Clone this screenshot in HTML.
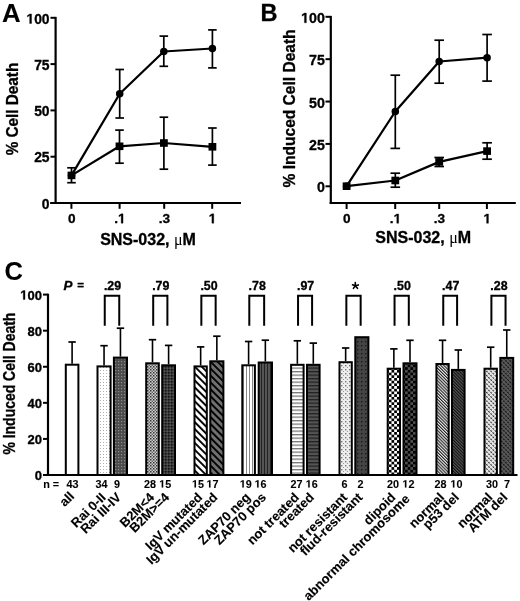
<!DOCTYPE html>
<html><head><meta charset="utf-8"><style>
html,body{margin:0;padding:0;background:#fff;width:520px;height:601px;overflow:hidden}
svg{display:block;font-family:"Liberation Sans", sans-serif;filter:grayscale(1)}
text{stroke:#000;stroke-width:0.32px}
</style></head><body>
<svg width="520" height="601" viewBox="0 0 520 601">

<defs>
<pattern id="pdotL" width="3" height="3" patternUnits="userSpaceOnUse"><rect width="3" height="3" fill="#fff"/><rect x="1" y="1" width="1" height="1" fill="#b0b0b0"/></pattern>
<pattern id="pdotD" width="3" height="3" patternUnits="userSpaceOnUse"><rect width="3" height="3" fill="#4c4c4c"/><rect x="1" y="1" width="1.2" height="1.2" fill="#8a8a8a"/></pattern>
<pattern id="pchkM" width="3" height="3" patternUnits="userSpaceOnUse"><rect width="3" height="3" fill="#d0d0d0"/><rect x="0" y="0" width="1.5" height="1.5" fill="#333"/><rect x="1.5" y="1.5" width="1.5" height="1.5" fill="#666"/></pattern>
<pattern id="pchkD" width="3" height="3" patternUnits="userSpaceOnUse"><rect width="3" height="3" fill="#3a3a3a"/><rect x="0" y="0" width="1.5" height="1.5" fill="#111"/><rect x="1.5" y="1.5" width="1.5" height="1.5" fill="#555"/></pattern>
<pattern id="pdiagW" width="4.9" height="4.9" patternUnits="userSpaceOnUse" patternTransform="rotate(-45)"><rect width="4.9" height="4.9" fill="#fff"/><rect x="0" y="0" width="1.9" height="4.9" fill="#000"/></pattern>
<pattern id="pdiagD" width="4.9" height="4.9" patternUnits="userSpaceOnUse" patternTransform="rotate(-45)"><rect width="4.9" height="4.9" fill="#707070"/><rect x="0" y="0" width="1.9" height="4.9" fill="#000"/></pattern>
<pattern id="pvertL" width="3" height="3" patternUnits="userSpaceOnUse"><rect width="3" height="3" fill="#fff"/><rect x="0" y="0" width="1" height="3" fill="#888"/></pattern>
<pattern id="pvertD" width="3" height="3" patternUnits="userSpaceOnUse"><rect width="3" height="3" fill="#555"/><rect x="0" y="0" width="1" height="3" fill="#222"/></pattern>
<pattern id="phorL" width="3.5" height="3.5" patternUnits="userSpaceOnUse"><rect width="3.5" height="3.5" fill="#fff"/><rect x="0" y="0" width="3.5" height="1.3" fill="#777"/></pattern>
<pattern id="phorD" width="3.5" height="3.5" patternUnits="userSpaceOnUse"><rect width="3.5" height="3.5" fill="#555"/><rect x="0" y="0" width="3.5" height="1.3" fill="#222"/></pattern>
<pattern id="phexL" width="4" height="4" patternUnits="userSpaceOnUse"><rect width="4" height="4" fill="#eee"/><rect x="1" y="1" width="1.4" height="1.4" fill="#777"/><rect x="3" y="3" width="1" height="1" fill="#999"/></pattern>
<pattern id="phexD" width="4" height="4" patternUnits="userSpaceOnUse"><rect width="4" height="4" fill="#444"/><rect x="1" y="1" width="1.4" height="1.4" fill="#1a1a1a"/></pattern>
<pattern id="pcheckL" width="5.4" height="5.4" patternUnits="userSpaceOnUse"><rect width="5.4" height="5.4" fill="#fff"/><rect x="0" y="0" width="2.7" height="2.7" fill="#000"/><rect x="2.7" y="2.7" width="2.7" height="2.7" fill="#000"/></pattern>
<pattern id="pcheckD" width="5.4" height="5.4" patternUnits="userSpaceOnUse"><rect width="5.4" height="5.4" fill="#505050"/><rect x="0" y="0" width="2.7" height="2.7" fill="#000"/><rect x="2.7" y="2.7" width="2.7" height="2.7" fill="#000"/></pattern>
<pattern id="pfineL" width="2.2" height="2.2" patternUnits="userSpaceOnUse" patternTransform="rotate(-45)"><rect width="2.2" height="2.2" fill="#eee"/><rect x="0" y="0" width="1.1" height="2.2" fill="#222"/></pattern>
<pattern id="pfineD" width="2.2" height="2.2" patternUnits="userSpaceOnUse" patternTransform="rotate(-45)"><rect width="2.2" height="2.2" fill="#555"/><rect x="0" y="0" width="1.1" height="2.2" fill="#111"/></pattern>
<pattern id="pdashL" width="3" height="3" patternUnits="userSpaceOnUse" patternTransform="rotate(-45)"><rect width="3" height="3" fill="#eee"/><rect x="0" y="0" width="1.2" height="2" fill="#333"/></pattern>
<pattern id="pdashD" width="3" height="3" patternUnits="userSpaceOnUse" patternTransform="rotate(-45)"><rect width="3" height="3" fill="#5a5a5a"/><rect x="0" y="0" width="1.2" height="2" fill="#111"/></pattern>
</defs>

<rect width="520" height="601" fill="#fff"/>
<text x="2.0" y="22.0" font-size="25.5" text-anchor="start" font-weight="bold" textLength="18.6" lengthAdjust="spacingAndGlyphs" style="stroke-width:0.1px">A</text>
<line x1="55.6" y1="16.899999999999984" x2="55.6" y2="204.0" stroke="#000" stroke-width="2.2" />
<line x1="50.2" y1="203.0" x2="241" y2="203.0" stroke="#000" stroke-width="2.2" />
<line x1="50.5" y1="203.0" x2="55.6" y2="203.0" stroke="#000" stroke-width="2" />
<text x="49.6" y="208.7" font-size="13.9" text-anchor="end" font-weight="bold" >0</text>
<line x1="50.5" y1="156.7" x2="55.6" y2="156.7" stroke="#000" stroke-width="2" />
<text x="49.6" y="162.39999999999998" font-size="13.9" text-anchor="end" font-weight="bold" >25</text>
<line x1="50.5" y1="110.39999999999999" x2="55.6" y2="110.39999999999999" stroke="#000" stroke-width="2" />
<text x="49.6" y="116.1" font-size="13.9" text-anchor="end" font-weight="bold" >50</text>
<line x1="50.5" y1="64.1" x2="55.6" y2="64.1" stroke="#000" stroke-width="2" />
<text x="49.6" y="69.8" font-size="13.9" text-anchor="end" font-weight="bold" >75</text>
<line x1="50.5" y1="17.799999999999983" x2="55.6" y2="17.799999999999983" stroke="#000" stroke-width="2" />
<path d="M478,0 L478,1170 L140,959 L140,1180 L493,1409 L759,1409 L759,0 Z" transform="translate(26.41,23.499999999999982) scale(0.00679,-0.00679)" fill="#000" stroke="#000" stroke-width="0.32" vector-effect="non-scaling-stroke"/>
<text x="34.14" y="23.499999999999982" font-size="13.9" font-weight="bold" >0</text>
<text x="41.87" y="23.499999999999982" font-size="13.9" font-weight="bold" >0</text>
<line x1="71.4" y1="203.0" x2="71.4" y2="208.8" stroke="#000" stroke-width="2" />
<text x="71.7" y="223.2" font-size="13.6" text-anchor="middle" font-weight="bold" >0</text>
<line x1="119.6" y1="203.0" x2="119.6" y2="208.8" stroke="#000" stroke-width="2" />
<text x="114.23" y="223.2" font-size="13.6" font-weight="bold" >.</text>
<path d="M478,0 L478,1170 L140,959 L140,1180 L493,1409 L759,1409 L759,0 Z" transform="translate(118.01,223.2) scale(0.00664,-0.00664)" fill="#000" stroke="#000" stroke-width="0.32" vector-effect="non-scaling-stroke"/>
<line x1="164.2" y1="203.0" x2="164.2" y2="208.8" stroke="#000" stroke-width="2" />
<text x="164.5" y="223.2" font-size="13.6" text-anchor="middle" font-weight="bold" >.3</text>
<line x1="212.2" y1="203.0" x2="212.2" y2="208.8" stroke="#000" stroke-width="2" />
<path d="M478,0 L478,1170 L140,959 L140,1180 L493,1409 L759,1409 L759,0 Z" transform="translate(208.72,223.2) scale(0.00664,-0.00664)" fill="#000" stroke="#000" stroke-width="0.32" vector-effect="non-scaling-stroke"/>
<text x="148.0" y="244.6" font-size="16" text-anchor="middle" font-weight="bold" >SNS-032, <tspan font-family="Liberation Serif" font-weight="normal" style="stroke:none">&#956;</tspan>M</text>
<text transform="translate(17.9,109.0) rotate(-90)" font-size="16" font-weight="bold" text-anchor="middle" textLength="92.6" lengthAdjust="spacingAndGlyphs">% Cell Death</text>
<line x1="119.7" y1="69.5" x2="119.7" y2="118.0" stroke="#000" stroke-width="1.7" />
<line x1="115.4" y1="69.5" x2="124.0" y2="69.5" stroke="#000" stroke-width="1.7" />
<line x1="115.4" y1="118.0" x2="124.0" y2="118.0" stroke="#000" stroke-width="1.7" />
<line x1="163.8" y1="36.1" x2="163.8" y2="66.3" stroke="#000" stroke-width="1.7" />
<line x1="159.5" y1="36.1" x2="168.10000000000002" y2="36.1" stroke="#000" stroke-width="1.7" />
<line x1="159.5" y1="66.3" x2="168.10000000000002" y2="66.3" stroke="#000" stroke-width="1.7" />
<line x1="212.4" y1="29.9" x2="212.4" y2="67.9" stroke="#000" stroke-width="1.7" />
<line x1="208.1" y1="29.9" x2="216.70000000000002" y2="29.9" stroke="#000" stroke-width="1.7" />
<line x1="208.1" y1="67.9" x2="216.70000000000002" y2="67.9" stroke="#000" stroke-width="1.7" />
<path d="M71.5,175.4 L119.7,93.7 L163.8,51.5 L212.4,48.5" fill="none" stroke="#000" stroke-width="2.25" stroke-linejoin="round"/>
<circle cx="71.5" cy="175.4" r="3.75" fill="#000"/>
<circle cx="119.7" cy="93.7" r="3.75" fill="#000"/>
<circle cx="163.8" cy="51.5" r="3.75" fill="#000"/>
<circle cx="212.4" cy="48.5" r="3.75" fill="#000"/>
<line x1="71.5" y1="167.8" x2="71.5" y2="182.7" stroke="#000" stroke-width="1.7" />
<line x1="67.2" y1="167.8" x2="75.8" y2="167.8" stroke="#000" stroke-width="1.7" />
<line x1="67.2" y1="182.7" x2="75.8" y2="182.7" stroke="#000" stroke-width="1.7" />
<line x1="119.5" y1="130.1" x2="119.5" y2="163.2" stroke="#000" stroke-width="1.7" />
<line x1="115.2" y1="130.1" x2="123.8" y2="130.1" stroke="#000" stroke-width="1.7" />
<line x1="115.2" y1="163.2" x2="123.8" y2="163.2" stroke="#000" stroke-width="1.7" />
<line x1="163.9" y1="117.2" x2="163.9" y2="169.2" stroke="#000" stroke-width="1.7" />
<line x1="159.6" y1="117.2" x2="168.20000000000002" y2="117.2" stroke="#000" stroke-width="1.7" />
<line x1="159.6" y1="169.2" x2="168.20000000000002" y2="169.2" stroke="#000" stroke-width="1.7" />
<line x1="212.4" y1="128.0" x2="212.4" y2="165.1" stroke="#000" stroke-width="1.7" />
<line x1="208.1" y1="128.0" x2="216.70000000000002" y2="128.0" stroke="#000" stroke-width="1.7" />
<line x1="208.1" y1="165.1" x2="216.70000000000002" y2="165.1" stroke="#000" stroke-width="1.7" />
<path d="M71.5,175.4 L119.5,146.3 L163.9,143.0 L212.4,146.8" fill="none" stroke="#000" stroke-width="2.25" stroke-linejoin="round"/>
<rect x="67.6" y="171.6" width="7.8" height="7.6" fill="#000"/>
<rect x="115.6" y="142.5" width="7.8" height="7.6" fill="#000"/>
<rect x="160.0" y="139.2" width="7.8" height="7.6" fill="#000"/>
<rect x="208.5" y="143.0" width="7.8" height="7.6" fill="#000"/>
<text x="260.6" y="20.8" font-size="23.5" text-anchor="start" font-weight="bold" >B</text>
<line x1="330.8" y1="15.900000000000011" x2="330.8" y2="204" stroke="#000" stroke-width="2.2" />
<line x1="329.7" y1="203.0" x2="515.8" y2="203.0" stroke="#000" stroke-width="2.2" />
<line x1="325.5" y1="186.3" x2="330.8" y2="186.3" stroke="#000" stroke-width="2" />
<text x="324.8" y="192.3" font-size="14.2" text-anchor="end" font-weight="bold" >0</text>
<line x1="325.5" y1="143.925" x2="330.8" y2="143.925" stroke="#000" stroke-width="2" />
<text x="324.8" y="149.925" font-size="14.2" text-anchor="end" font-weight="bold" >25</text>
<line x1="325.5" y1="101.55000000000001" x2="330.8" y2="101.55000000000001" stroke="#000" stroke-width="2" />
<text x="324.8" y="107.55000000000001" font-size="14.2" text-anchor="end" font-weight="bold" >50</text>
<line x1="325.5" y1="59.17500000000001" x2="330.8" y2="59.17500000000001" stroke="#000" stroke-width="2" />
<text x="324.8" y="65.17500000000001" font-size="14.2" text-anchor="end" font-weight="bold" >75</text>
<line x1="325.5" y1="16.80000000000001" x2="330.8" y2="16.80000000000001" stroke="#000" stroke-width="2" />
<path d="M478,0 L478,1170 L140,959 L140,1180 L493,1409 L759,1409 L759,0 Z" transform="translate(301.11,22.80000000000001) scale(0.00693,-0.00693)" fill="#000" stroke="#000" stroke-width="0.32" vector-effect="non-scaling-stroke"/>
<text x="309.01" y="22.80000000000001" font-size="14.2" font-weight="bold" >0</text>
<text x="316.90" y="22.80000000000001" font-size="14.2" font-weight="bold" >0</text>
<line x1="346.6" y1="203" x2="346.6" y2="209" stroke="#000" stroke-width="2" />
<text x="346.90000000000003" y="223.3" font-size="13.6" text-anchor="middle" font-weight="bold" >0</text>
<line x1="395.2" y1="203" x2="395.2" y2="209" stroke="#000" stroke-width="2" />
<text x="389.83" y="223.3" font-size="13.6" font-weight="bold" >.</text>
<path d="M478,0 L478,1170 L140,959 L140,1180 L493,1409 L759,1409 L759,0 Z" transform="translate(393.61,223.3) scale(0.00664,-0.00664)" fill="#000" stroke="#000" stroke-width="0.32" vector-effect="non-scaling-stroke"/>
<line x1="439.2" y1="203" x2="439.2" y2="209" stroke="#000" stroke-width="2" />
<text x="439.5" y="223.3" font-size="13.6" text-anchor="middle" font-weight="bold" >.3</text>
<line x1="486.9" y1="203" x2="486.9" y2="209" stroke="#000" stroke-width="2" />
<path d="M478,0 L478,1170 L140,959 L140,1180 L493,1409 L759,1409 L759,0 Z" transform="translate(483.42,223.3) scale(0.00664,-0.00664)" fill="#000" stroke="#000" stroke-width="0.32" vector-effect="non-scaling-stroke"/>
<text x="423.2" y="243.2" font-size="16" text-anchor="middle" font-weight="bold" >SNS-032, <tspan font-family="Liberation Serif" font-weight="normal" style="stroke:none">&#956;</tspan>M</text>
<text transform="translate(295.4,108.4) rotate(-90)" font-size="15.6" font-weight="bold" text-anchor="middle" textLength="158" lengthAdjust="spacingAndGlyphs">% Induced Cell Death</text>
<line x1="395.3" y1="75.2" x2="395.3" y2="148.4" stroke="#000" stroke-width="1.7" />
<line x1="390.5" y1="75.2" x2="400.1" y2="75.2" stroke="#000" stroke-width="1.7" />
<line x1="390.5" y1="148.4" x2="400.1" y2="148.4" stroke="#000" stroke-width="1.7" />
<line x1="439.2" y1="40.2" x2="439.2" y2="83.2" stroke="#000" stroke-width="1.7" />
<line x1="434.4" y1="40.2" x2="444.0" y2="40.2" stroke="#000" stroke-width="1.7" />
<line x1="434.4" y1="83.2" x2="444.0" y2="83.2" stroke="#000" stroke-width="1.7" />
<line x1="487.1" y1="34.5" x2="487.1" y2="81.1" stroke="#000" stroke-width="1.7" />
<line x1="482.3" y1="34.5" x2="491.90000000000003" y2="34.5" stroke="#000" stroke-width="1.7" />
<line x1="482.3" y1="81.1" x2="491.90000000000003" y2="81.1" stroke="#000" stroke-width="1.7" />
<path d="M346.6,186.2 L395.3,111.5 L439.2,61.5 L487.1,57.7" fill="none" stroke="#000" stroke-width="2.25" stroke-linejoin="round"/>
<circle cx="346.6" cy="186.2" r="3.75" fill="#000"/>
<circle cx="395.3" cy="111.5" r="3.75" fill="#000"/>
<circle cx="439.2" cy="61.5" r="3.75" fill="#000"/>
<circle cx="487.1" cy="57.7" r="3.75" fill="#000"/>
<line x1="395.3" y1="173.2" x2="395.3" y2="187.2" stroke="#000" stroke-width="1.7" />
<line x1="390.5" y1="173.2" x2="400.1" y2="173.2" stroke="#000" stroke-width="1.7" />
<line x1="390.5" y1="187.2" x2="400.1" y2="187.2" stroke="#000" stroke-width="1.7" />
<line x1="439.2" y1="157.5" x2="439.2" y2="166.5" stroke="#000" stroke-width="1.7" />
<line x1="434.4" y1="157.5" x2="444.0" y2="157.5" stroke="#000" stroke-width="1.7" />
<line x1="434.4" y1="166.5" x2="444.0" y2="166.5" stroke="#000" stroke-width="1.7" />
<line x1="487.1" y1="142.8" x2="487.1" y2="159.2" stroke="#000" stroke-width="1.7" />
<line x1="482.3" y1="142.8" x2="491.90000000000003" y2="142.8" stroke="#000" stroke-width="1.7" />
<line x1="482.3" y1="159.2" x2="491.90000000000003" y2="159.2" stroke="#000" stroke-width="1.7" />
<path d="M346.6,186.2 L395.3,180.5 L439.2,161.9 L487.1,151.1" fill="none" stroke="#000" stroke-width="2.25" stroke-linejoin="round"/>
<rect x="342.70000000000005" y="182.39999999999998" width="7.8" height="7.6" fill="#000"/>
<rect x="391.40000000000003" y="176.7" width="7.8" height="7.6" fill="#000"/>
<rect x="435.3" y="158.1" width="7.8" height="7.6" fill="#000"/>
<rect x="483.20000000000005" y="147.29999999999998" width="7.8" height="7.6" fill="#000"/>
<text x="4.6" y="280.3" font-size="25.5" text-anchor="start" font-weight="bold" style="stroke-width:0.1px">C</text>
<line x1="48.0" y1="293.70000000000005" x2="48.0" y2="475.0" stroke="#000" stroke-width="2.2" />
<line x1="43" y1="475.0" x2="517.5" y2="475.0" stroke="#000" stroke-width="2.2" />
<line x1="43" y1="475.0" x2="48.0" y2="475.0" stroke="#000" stroke-width="2" />
<text x="41.9" y="479.9" font-size="13" text-anchor="end" font-weight="bold" >0</text>
<line x1="43" y1="438.92" x2="48.0" y2="438.92" stroke="#000" stroke-width="2" />
<text x="41.9" y="443.82" font-size="13" text-anchor="end" font-weight="bold" >20</text>
<line x1="43" y1="402.84000000000003" x2="48.0" y2="402.84000000000003" stroke="#000" stroke-width="2" />
<text x="41.9" y="407.74" font-size="13" text-anchor="end" font-weight="bold" >40</text>
<line x1="43" y1="366.76" x2="48.0" y2="366.76" stroke="#000" stroke-width="2" />
<text x="41.9" y="371.65999999999997" font-size="13" text-anchor="end" font-weight="bold" >60</text>
<line x1="43" y1="330.68" x2="48.0" y2="330.68" stroke="#000" stroke-width="2" />
<text x="41.9" y="335.58" font-size="13" text-anchor="end" font-weight="bold" >80</text>
<line x1="43" y1="294.6" x2="48.0" y2="294.6" stroke="#000" stroke-width="2" />
<path d="M478,0 L478,1170 L140,959 L140,1180 L493,1409 L759,1409 L759,0 Z" transform="translate(20.21,299.5) scale(0.00635,-0.00635)" fill="#000" stroke="#000" stroke-width="0.32" vector-effect="non-scaling-stroke"/>
<text x="27.44" y="299.5" font-size="13" font-weight="bold" >0</text>
<text x="34.67" y="299.5" font-size="13" font-weight="bold" >0</text>
<text transform="translate(14.9,383.6) rotate(-90)" font-size="16.2" font-weight="bold" text-anchor="middle" textLength="142" lengthAdjust="spacingAndGlyphs">% Induced Cell Death</text>
<text x="63.6" y="289.8" font-size="13.4" text-anchor="start" font-weight="bold" font-style="italic">P</text>
<text x="77.2" y="289.3" font-size="11.6" text-anchor="start" font-weight="bold" >=</text>
<line x1="72.1" y1="342.0" x2="72.1" y2="363.7" stroke="#000" stroke-width="1.6" />
<line x1="68.39999999999999" y1="342.0" x2="75.8" y2="342.0" stroke="#000" stroke-width="1.7" />
<rect x="65.8" y="364.7" width="12.600000000000009" height="110.30000000000001" fill="#fff" stroke="#000" stroke-width="2.0"/>
<line x1="104.05" y1="345.7" x2="104.05" y2="365.4" stroke="#000" stroke-width="1.6" />
<line x1="100.35" y1="345.7" x2="107.75" y2="345.7" stroke="#000" stroke-width="1.7" />
<rect x="97.5" y="366.4" width="13.099999999999994" height="108.60000000000002" fill="url(#pdotL)" stroke="#000" stroke-width="2.0"/>
<line x1="120.45" y1="328.2" x2="120.45" y2="356.6" stroke="#000" stroke-width="1.6" />
<line x1="116.75" y1="328.2" x2="124.15" y2="328.2" stroke="#000" stroke-width="1.7" />
<rect x="113.9" y="357.6" width="13.099999999999994" height="117.39999999999998" fill="url(#pdotD)" stroke="#000" stroke-width="2.0"/>
<line x1="152.5" y1="339.7" x2="152.5" y2="362.3" stroke="#000" stroke-width="1.6" />
<line x1="148.8" y1="339.7" x2="156.2" y2="339.7" stroke="#000" stroke-width="1.7" />
<rect x="146.2" y="363.3" width="12.600000000000023" height="111.69999999999999" fill="url(#pchkM)" stroke="#000" stroke-width="2.0"/>
<line x1="168.6" y1="345.4" x2="168.6" y2="364.3" stroke="#000" stroke-width="1.6" />
<line x1="164.9" y1="345.4" x2="172.29999999999998" y2="345.4" stroke="#000" stroke-width="1.7" />
<rect x="162.2" y="365.3" width="12.800000000000011" height="109.69999999999999" fill="url(#pchkD)" stroke="#000" stroke-width="2.0"/>
<line x1="200.65" y1="346.9" x2="200.65" y2="365.4" stroke="#000" stroke-width="1.6" />
<line x1="196.95000000000002" y1="346.9" x2="204.35" y2="346.9" stroke="#000" stroke-width="1.7" />
<rect x="194.5" y="366.4" width="12.300000000000011" height="108.60000000000002" fill="url(#pdiagW)" stroke="#000" stroke-width="2.0"/>
<line x1="216.85000000000002" y1="336.2" x2="216.85000000000002" y2="360.3" stroke="#000" stroke-width="1.6" />
<line x1="213.15000000000003" y1="336.2" x2="220.55" y2="336.2" stroke="#000" stroke-width="1.7" />
<rect x="210.3" y="361.3" width="13.099999999999994" height="113.69999999999999" fill="url(#pdiagD)" stroke="#000" stroke-width="2.0"/>
<line x1="248.60000000000002" y1="341.5" x2="248.60000000000002" y2="364.3" stroke="#000" stroke-width="1.6" />
<line x1="244.90000000000003" y1="341.5" x2="252.3" y2="341.5" stroke="#000" stroke-width="1.7" />
<rect x="242.3" y="365.3" width="12.599999999999994" height="109.69999999999999" fill="url(#pvertL)" stroke="#000" stroke-width="2.0"/>
<line x1="265.35" y1="340.2" x2="265.35" y2="361.5" stroke="#000" stroke-width="1.6" />
<line x1="261.65000000000003" y1="340.2" x2="269.05" y2="340.2" stroke="#000" stroke-width="1.7" />
<rect x="258.7" y="362.5" width="13.300000000000011" height="112.5" fill="url(#pvertD)" stroke="#000" stroke-width="2.0"/>
<line x1="297.35" y1="340.8" x2="297.35" y2="363.8" stroke="#000" stroke-width="1.6" />
<line x1="293.65000000000003" y1="340.8" x2="301.05" y2="340.8" stroke="#000" stroke-width="1.7" />
<rect x="291.1" y="364.8" width="12.5" height="110.19999999999999" fill="url(#phorL)" stroke="#000" stroke-width="2.0"/>
<line x1="313.3" y1="343.1" x2="313.3" y2="363.8" stroke="#000" stroke-width="1.6" />
<line x1="309.6" y1="343.1" x2="317.0" y2="343.1" stroke="#000" stroke-width="1.7" />
<rect x="307.0" y="364.8" width="12.600000000000023" height="110.19999999999999" fill="url(#phorD)" stroke="#000" stroke-width="2.0"/>
<line x1="345.65" y1="348.0" x2="345.65" y2="361.2" stroke="#000" stroke-width="1.6" />
<line x1="341.95" y1="348.0" x2="349.34999999999997" y2="348.0" stroke="#000" stroke-width="1.7" />
<rect x="339.5" y="362.2" width="12.300000000000011" height="112.80000000000001" fill="url(#phexL)" stroke="#000" stroke-width="2.0"/>
<rect x="355.3" y="337.2" width="13.099999999999966" height="137.8" fill="url(#phexD)" stroke="#000" stroke-width="2.0"/>
<line x1="393.85" y1="348.9" x2="393.85" y2="367.7" stroke="#000" stroke-width="1.6" />
<line x1="390.15000000000003" y1="348.9" x2="397.55" y2="348.9" stroke="#000" stroke-width="1.7" />
<rect x="387.7" y="368.7" width="12.300000000000011" height="106.30000000000001" fill="url(#pcheckL)" stroke="#000" stroke-width="2.0"/>
<line x1="410.0" y1="340.3" x2="410.0" y2="362.3" stroke="#000" stroke-width="1.6" />
<line x1="406.3" y1="340.3" x2="413.7" y2="340.3" stroke="#000" stroke-width="1.7" />
<rect x="403.5" y="363.3" width="13.0" height="111.69999999999999" fill="url(#pcheckD)" stroke="#000" stroke-width="2.0"/>
<line x1="442.54999999999995" y1="340.3" x2="442.54999999999995" y2="363.0" stroke="#000" stroke-width="1.6" />
<line x1="438.84999999999997" y1="340.3" x2="446.24999999999994" y2="340.3" stroke="#000" stroke-width="1.7" />
<rect x="436.4" y="364.0" width="12.300000000000011" height="111.0" fill="url(#pfineL)" stroke="#000" stroke-width="2.0"/>
<line x1="458.3" y1="350.0" x2="458.3" y2="368.9" stroke="#000" stroke-width="1.6" />
<line x1="454.6" y1="350.0" x2="462.0" y2="350.0" stroke="#000" stroke-width="1.7" />
<rect x="452.0" y="369.9" width="12.600000000000023" height="105.10000000000002" fill="url(#pfineD)" stroke="#000" stroke-width="2.0"/>
<line x1="490.7" y1="347.2" x2="490.7" y2="367.7" stroke="#000" stroke-width="1.6" />
<line x1="487.0" y1="347.2" x2="494.4" y2="347.2" stroke="#000" stroke-width="1.7" />
<rect x="484.5" y="368.7" width="12.399999999999977" height="106.30000000000001" fill="url(#pdashL)" stroke="#000" stroke-width="2.0"/>
<line x1="506.75" y1="330.0" x2="506.75" y2="356.9" stroke="#000" stroke-width="1.6" />
<line x1="503.05" y1="330.0" x2="510.45" y2="330.0" stroke="#000" stroke-width="1.7" />
<rect x="500.3" y="357.9" width="12.900000000000034" height="117.10000000000002" fill="url(#pdashD)" stroke="#000" stroke-width="2.0"/>
<path d="M104.75,325.8 L104.75,295.8 L119.25,295.8 L119.25,325.8" fill="none" stroke="#000" stroke-width="2"/>
<text x="112.5" y="290.0" font-size="12.4" text-anchor="middle" font-weight="bold" >.29</text>
<path d="M153.2,325.8 L153.2,295.8 L167.4,295.8 L167.4,325.8" fill="none" stroke="#000" stroke-width="2"/>
<text x="160.8" y="290.0" font-size="12.4" text-anchor="middle" font-weight="bold" >.79</text>
<path d="M201.35,325.8 L201.35,295.8 L215.65000000000003,295.8 L215.65000000000003,325.8" fill="none" stroke="#000" stroke-width="2"/>
<text x="209.0" y="290.0" font-size="12.4" text-anchor="middle" font-weight="bold" >.50</text>
<path d="M249.3,325.8 L249.3,295.8 L264.15000000000003,295.8 L264.15000000000003,325.8" fill="none" stroke="#000" stroke-width="2"/>
<text x="257.225" y="290.0" font-size="12.4" text-anchor="middle" font-weight="bold" >.78</text>
<path d="M298.05,325.8 L298.05,295.8 L312.1,295.8 L312.1,325.8" fill="none" stroke="#000" stroke-width="2"/>
<text x="305.57500000000005" y="290.0" font-size="12.4" text-anchor="middle" font-weight="bold" >.97</text>
<path d="M346.34999999999997,325.8 L346.34999999999997,295.8 L360.65000000000003,295.8 L360.65000000000003,325.8" fill="none" stroke="#000" stroke-width="2"/>
<path d="M355.3,285.8 l0,-3.2 M355.3,285.8 l-2.8,-1.0 M355.3,285.8 l3.0,-0.9 M355.3,285.8 l-1.9,2.6 M355.3,285.8 l2.2,2.5" stroke="#000" stroke-width="1.6" stroke-linecap="round" fill="none"/>
<path d="M394.55,325.8 L394.55,295.8 L408.8,295.8 L408.8,325.8" fill="none" stroke="#000" stroke-width="2"/>
<text x="402.175" y="290.0" font-size="12.4" text-anchor="middle" font-weight="bold" >.50</text>
<path d="M443.24999999999994,325.8 L443.24999999999994,295.8 L457.1,295.8 L457.1,325.8" fill="none" stroke="#000" stroke-width="2"/>
<text x="450.67499999999995" y="290.0" font-size="12.4" text-anchor="middle" font-weight="bold" >.47</text>
<path d="M491.4,325.8 L491.4,295.8 L505.55,295.8 L505.55,325.8" fill="none" stroke="#000" stroke-width="2"/>
<text x="498.975" y="290.0" font-size="12.4" text-anchor="middle" font-weight="bold" >.28</text>
<text x="43.2" y="487.6" font-size="10.8" text-anchor="start" font-weight="bold" style="stroke-width:0.1px">n =</text>
<text x="72.4" y="487.6" font-size="10.8" text-anchor="middle" font-weight="bold" style="stroke-width:0.1px">43</text>
<text x="101.6" y="487.6" font-size="10.8" text-anchor="middle" font-weight="bold" style="stroke-width:0.1px">34</text>
<text x="117" y="487.6" font-size="10.8" text-anchor="middle" font-weight="bold" style="stroke-width:0.1px">9</text>
<text x="150.1" y="487.6" font-size="10.8" text-anchor="middle" font-weight="bold" style="stroke-width:0.1px">28</text>
<path d="M478,0 L478,1170 L140,959 L140,1180 L493,1409 L759,1409 L759,0 Z" transform="translate(159.19,487.6) scale(0.00527,-0.00527)" fill="#000" stroke="#000" stroke-width="0.1" vector-effect="non-scaling-stroke"/>
<text x="165.20" y="487.6" font-size="10.8" font-weight="bold" style="stroke-width:0.1px">5</text>
<path d="M478,0 L478,1170 L140,959 L140,1180 L493,1409 L759,1409 L759,0 Z" transform="translate(191.99,487.6) scale(0.00527,-0.00527)" fill="#000" stroke="#000" stroke-width="0.1" vector-effect="non-scaling-stroke"/>
<text x="198.00" y="487.6" font-size="10.8" font-weight="bold" style="stroke-width:0.1px">5</text>
<path d="M478,0 L478,1170 L140,959 L140,1180 L493,1409 L759,1409 L759,0 Z" transform="translate(206.49,487.6) scale(0.00527,-0.00527)" fill="#000" stroke="#000" stroke-width="0.1" vector-effect="non-scaling-stroke"/>
<text x="212.50" y="487.6" font-size="10.8" font-weight="bold" style="stroke-width:0.1px">7</text>
<path d="M478,0 L478,1170 L140,959 L140,1180 L493,1409 L759,1409 L759,0 Z" transform="translate(239.79,487.6) scale(0.00527,-0.00527)" fill="#000" stroke="#000" stroke-width="0.1" vector-effect="non-scaling-stroke"/>
<text x="245.80" y="487.6" font-size="10.8" font-weight="bold" style="stroke-width:0.1px">9</text>
<path d="M478,0 L478,1170 L140,959 L140,1180 L493,1409 L759,1409 L759,0 Z" transform="translate(254.59,487.6) scale(0.00527,-0.00527)" fill="#000" stroke="#000" stroke-width="0.1" vector-effect="non-scaling-stroke"/>
<text x="260.60" y="487.6" font-size="10.8" font-weight="bold" style="stroke-width:0.1px">6</text>
<text x="296.4" y="487.6" font-size="10.8" text-anchor="middle" font-weight="bold" style="stroke-width:0.1px">27</text>
<path d="M478,0 L478,1170 L140,959 L140,1180 L493,1409 L759,1409 L759,0 Z" transform="translate(305.69,487.6) scale(0.00527,-0.00527)" fill="#000" stroke="#000" stroke-width="0.1" vector-effect="non-scaling-stroke"/>
<text x="311.70" y="487.6" font-size="10.8" font-weight="bold" style="stroke-width:0.1px">6</text>
<text x="344.4" y="487.6" font-size="10.8" text-anchor="middle" font-weight="bold" style="stroke-width:0.1px">6</text>
<text x="360.6" y="487.6" font-size="10.8" text-anchor="middle" font-weight="bold" style="stroke-width:0.1px">2</text>
<text x="393" y="487.6" font-size="10.8" text-anchor="middle" font-weight="bold" style="stroke-width:0.1px">20</text>
<path d="M478,0 L478,1170 L140,959 L140,1180 L493,1409 L759,1409 L759,0 Z" transform="translate(402.39,487.6) scale(0.00527,-0.00527)" fill="#000" stroke="#000" stroke-width="0.1" vector-effect="non-scaling-stroke"/>
<text x="408.40" y="487.6" font-size="10.8" font-weight="bold" style="stroke-width:0.1px">2</text>
<text x="440.4" y="487.6" font-size="10.8" text-anchor="middle" font-weight="bold" style="stroke-width:0.1px">28</text>
<path d="M478,0 L478,1170 L140,959 L140,1180 L493,1409 L759,1409 L759,0 Z" transform="translate(450.39,487.6) scale(0.00527,-0.00527)" fill="#000" stroke="#000" stroke-width="0.1" vector-effect="non-scaling-stroke"/>
<text x="456.40" y="487.6" font-size="10.8" font-weight="bold" style="stroke-width:0.1px">0</text>
<text x="491.9" y="487.6" font-size="10.8" text-anchor="middle" font-weight="bold" style="stroke-width:0.1px">30</text>
<text x="507" y="487.6" font-size="10.8" text-anchor="middle" font-weight="bold" style="stroke-width:0.1px">7</text>
<text transform="translate(75.0,497.1) rotate(-45)" font-size="13.0" font-weight="bold" text-anchor="end" style="stroke-width:0.12px">all</text>
<text transform="translate(106.5,498.1) rotate(-45)" font-size="13.0" font-weight="bold" text-anchor="end" style="stroke-width:0.12px">Rai 0-II</text>
<text transform="translate(122.0,498.1) rotate(-45)" font-size="13.0" font-weight="bold" text-anchor="end" style="stroke-width:0.12px">Rai III-IV</text>
<text transform="translate(155.0,498.1) rotate(-45)" font-size="13.0" font-weight="bold" text-anchor="end" style="stroke-width:0.12px">B2M&lt;4</text>
<text transform="translate(170.1,498.1) rotate(-45)" font-size="13.0" font-weight="bold" text-anchor="end" style="stroke-width:0.12px">B2M&gt;=4</text>
<text transform="translate(203.2,498.1) rotate(-45)" font-size="13.0" font-weight="bold" text-anchor="end" style="stroke-width:0.12px">IgV mutated</text>
<text transform="translate(218.4,498.1) rotate(-45)" font-size="13.0" font-weight="bold" text-anchor="end" style="stroke-width:0.12px">IgV un-mutated</text>
<text transform="translate(251.1,498.1) rotate(-45)" font-size="13.0" font-weight="bold" text-anchor="end" style="stroke-width:0.12px">ZAP70 neg</text>
<text transform="translate(266.9,498.1) rotate(-45)" font-size="13.0" font-weight="bold" text-anchor="end" style="stroke-width:0.12px">ZAP70 pos</text>
<text transform="translate(299.9,498.1) rotate(-45)" font-size="13.0" font-weight="bold" text-anchor="end" style="stroke-width:0.12px">not treated</text>
<text transform="translate(314.8,498.1) rotate(-45)" font-size="13.0" font-weight="bold" text-anchor="end" style="stroke-width:0.12px">treated</text>
<text transform="translate(348.1,498.1) rotate(-45)" font-size="13.0" font-weight="bold" text-anchor="end" style="stroke-width:0.12px">not resistant</text>
<text transform="translate(363.4,498.1) rotate(-45)" font-size="13.0" font-weight="bold" text-anchor="end" style="stroke-width:0.12px">flud-resistant</text>
<text transform="translate(396.4,498.1) rotate(-45)" font-size="13.0" font-weight="bold" text-anchor="end" style="stroke-width:0.12px">dipoid</text>
<text transform="translate(410.5,499.6) rotate(-45)" font-size="13.0" font-weight="bold" text-anchor="end" style="stroke-width:0.12px">abnormal chromosome</text>
<text transform="translate(445.0,498.1) rotate(-45)" font-size="13.0" font-weight="bold" text-anchor="end" style="stroke-width:0.12px">normal</text>
<text transform="translate(459.8,498.1) rotate(-45)" font-size="13.0" font-weight="bold" text-anchor="end" style="stroke-width:0.12px">p53 del</text>
<text transform="translate(493.2,498.1) rotate(-45)" font-size="13.0" font-weight="bold" text-anchor="end" style="stroke-width:0.12px">normal</text>
<text transform="translate(508.2,498.1) rotate(-45)" font-size="13.0" font-weight="bold" text-anchor="end" style="stroke-width:0.12px">ATM del</text>
</svg>
</body></html>
